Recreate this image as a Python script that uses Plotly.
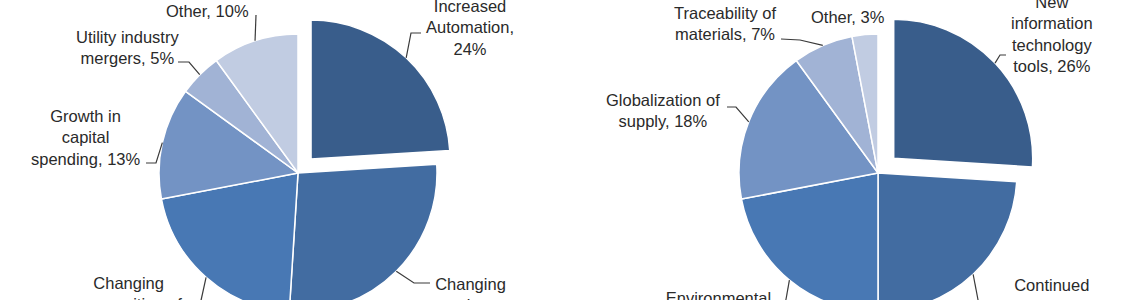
import math
import plotly.graph_objects as go

# ---------------- data ----------------
left_labels = ["Increased Automation", "Changing regulatory environment",
               "Changing composition of the workforce", "Growth in capital spending",
               "Utility industry mergers", "Other"]
left_values = [24, 27, 21, 13, 5, 10]
left_label_text = ["Increased<br>Automation,<br>{v}%", "Changing<br>regulatory<br>environment, {v}%",
                   "Changing<br>composition of<br>the workforce, {v}%", "Growth in<br>capital<br>spending, {v}%",
                   "Utility industry<br>mergers, {v}%", "Other, {v}%"]

right_labels = ["New information technology tools", "Continued outsourcing",
                "Environmental regulations", "Globalization of supply",
                "Traceability of materials", "Other"]
right_values = [26, 24, 22, 18, 7, 3]
right_label_text = ["New<br>information<br>technology<br>tools, {v}%", "Continued<br>outsourcing, {v}%",
                    "Environmental<br>regulations, {v}%", "Globalization of<br>supply, {v}%",
                    "Traceability of<br>materials, {v}%", "Other, {v}%"]

slice_colors = ["#395D8B", "#426CA1", "#4878B4", "#7393C4", "#A1B3D5", "#C1CCE2"]

# ---------------- layout geometry (pixels) ----------------
W, H = 1142, 380
R = 139
pies = [
    dict(labels=left_labels, values=left_values, texts=left_label_text,
         cx=298, cy=173, pull=0.137,
         # text centre and leader waypoints (from slice edge toward label)
         lab=[(470, 27, [(411, 33), (421, 33)]),
              (470, 305, [(414, 283), (430, 283)]),
              (129, 304, [(200, 305)]),
              (86, 137, [(156, 163), (146, 163)]),
              (127, 47, [(189, 62), (178, 62)]),
              (207, 11, [(256, 15)])]),
    dict(labels=right_labels, values=right_values, texts=right_label_text,
         cx=878, cy=173, pull=0.155,
         lab=[(1052, 34, [(1000, 55), (1006, 55)]),
              (1052, 295, [(979, 305)]),
              (718, 308, [(785, 305)]),
              (663, 110, [(736, 107), (727, 107)]),
              (725, 24, [(800, 40), (781, 39)]),
              (848, 17, [])]),
]


def px(x, y):
    return x / W, 1 - y / H


fig = go.Figure()
annotations = []
shapes = []
for p in pies:
    box = 2 * R * (1 + p["pull"])
    dx = [(p["cx"] - box / 2) / W, (p["cx"] + box / 2) / W]
    dy = [1 - (p["cy"] + box / 2) / H, 1 - (p["cy"] - box / 2) / H]
    pulls = [p["pull"]] + [0] * (len(p["values"]) - 1)
    fig.add_trace(go.Pie(
        labels=p["labels"], values=p["values"], sort=False, direction="clockwise",
        rotation=0, pull=pulls, textinfo="none", hoverinfo="label+percent",
        marker=dict(colors=slice_colors, line=dict(color="white", width=1.5)),
        domain=dict(x=dx, y=dy), showlegend=False,
    ))
    # plotly radius
    r = box / (2 + 2 * p["pull"])
    total = sum(p["values"])
    cum = 0
    for i, v in enumerate(p["values"]):
        mid = (cum + v / 2) / total
        cum += v
        th = 2 * math.pi * mid
        ox = p["cx"] + pulls[i] * r * math.sin(th)
        oy = p["cy"] - pulls[i] * r * math.cos(th)
        ax = ox + r * math.sin(th)
        ay = oy - r * math.cos(th)
        tx, ty, way = p["lab"][i]
        if way:
            pts = [(ax, ay)] + way
            path = "M " + " L ".join("%.5f %.5f" % px(x, y) for x, y in pts)
            shapes.append(dict(type="path", path=path, xref="paper", yref="paper",
                               line=dict(color="#3a3a3a", width=1.2)))
        annotations.append(dict(
            text=p["texts"][i].format(v=v), x=tx / W, y=1 - ty / H,
            xref="paper", yref="paper", xanchor="center", yanchor="middle",
            showarrow=False, align="center",
            font=dict(family="Liberation Sans, Arial, sans-serif", size=16.5, color="#2a2a2a"),
        ))

fig.update_layout(
    width=W, height=H, autosize=False,
    margin=dict(l=0, r=0, t=0, b=0),
    paper_bgcolor="white", plot_bgcolor="white",
    annotations=annotations, shapes=shapes,
)

fig.write_html("out.html", post_script=(
    "document.documentElement.style.overflow='hidden';"
    "document.body.style.overflow='hidden';"
    "document.body.style.margin='0';"
))
